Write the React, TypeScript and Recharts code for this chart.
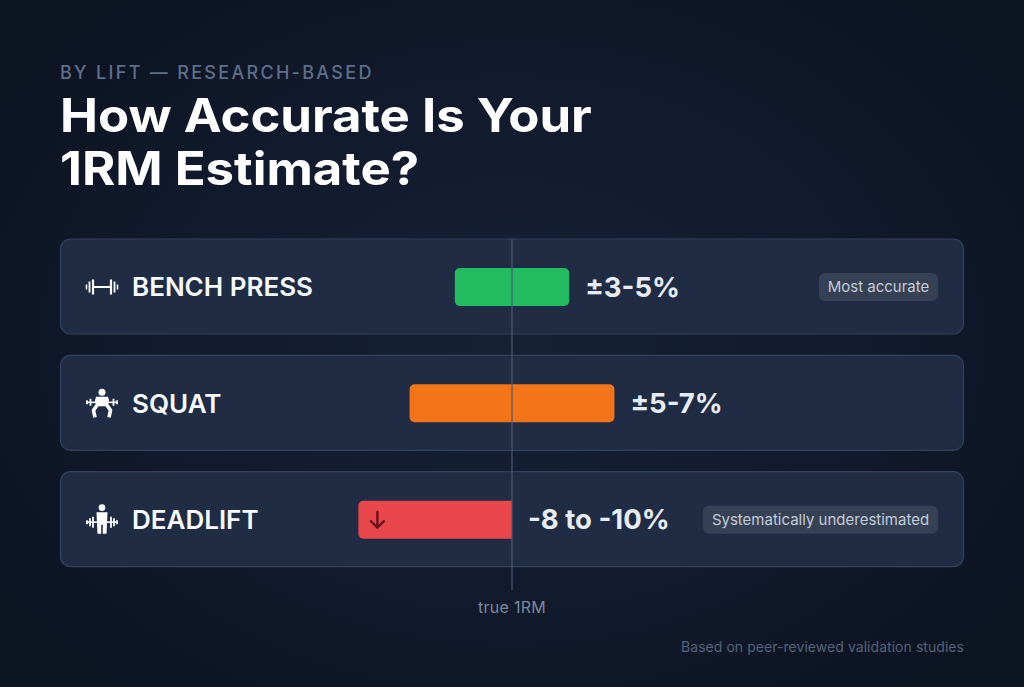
import React from "react";
import {
  Bar,
  BarChart,
  Cell,
  LabelList,
  Rectangle,
  ReferenceLine,
  XAxis,
  YAxis,
} from "recharts";

const lifts = ["BENCH PRESS", "SQUAT", "DEADLIFT"];
const lowValues = [-3.35, -6, -9];
const highValues = [3.35, 6, 0];
const rangeLabels = ["±3-5%", "±5-7%", "-8 to -10%"];
const notes = ["Most accurate", "", "Systematically underestimated"];
const barColors = ["#23bb60", "#f47519", "#e9474b"];

const rows = lifts.map((lift, i) => ({
  lift,
  range: [lowValues[i], highValues[i]],
  rangeLabel: rangeLabels[i],
  note: notes[i],
}));

const FONT = "Inter, 'Noto Sans', sans-serif";

const CardBackground = (props: any) => (
  <rect
    x={60.5}
    y={props.y - 29}
    width={903}
    height={95}
    rx={10}
    fill="#1f2c43"
    stroke="#33435c"
    strokeWidth={1.2}
  />
);

const RangeBar = (props: any) => {
  const oneSided = props.payload.range[1] === 0;
  return (
    <g>
      <Rectangle
        x={props.x}
        y={props.y}
        width={props.width}
        height={props.height}
        fill={props.fill}
        radius={oneSided ? [5, 0, 0, 5] : 5}
      />
      {oneSided && (
        <g
          transform={`translate(${props.x + 19} ${props.y + props.height / 2})`}
          stroke="#6b1119"
          strokeWidth={2.4}
          fill="none"
          strokeLinecap="round"
          strokeLinejoin="round"
        >
          <path d="M0 -8 V8 M-6.5 1.5 L0 8 L6.5 1.5" />
        </g>
      )}
    </g>
  );
};

const LiftIcon = ({ lift, y }: { lift: string; y: number }) => (
  <g transform={`translate(102 ${y})`}>
    {lift === "BENCH PRESS" && (
      <g stroke="#fff" fill="none">
        <path d="M-15.5 -2.5 V2.5 M15.5 -2.5 V2.5" strokeWidth={1.5} />
        <path d="M-12.5 -5.5 V5.5 M12.5 -5.5 V5.5" strokeWidth={1.8} />
        <path d="M-9 -7.5 V7.5 M9 -7.5 V7.5" strokeWidth={2.2} />
        <path d="M-9 0 H9" strokeWidth={2} />
      </g>
    )}
    {lift === "SQUAT" && (
      <g fill="#fff">
        <circle cx={0} cy={-11} r={3.5} />
        <path d="M-6 -6.5 H6 L7 -3 L6 3 H-6 L-7 -3 Z" />
        <path
          d="M-5 2 L-8.5 7 L-7 14 M5 2 L8.5 7 L7 14"
          stroke="#fff"
          strokeWidth={3.6}
          fill="none"
          strokeLinejoin="round"
        />
        <path d="M-15 -1 H15" stroke="#fff" strokeWidth={1.6} />
        <path
          d="M-11.5 -4.5 V2.5 M-15 -3 V1 M11.5 -4.5 V2.5 M15 -3 V1"
          stroke="#fff"
          strokeWidth={1.8}
        />
      </g>
    )}
    {lift === "DEADLIFT" && (
      <g fill="#fff">
        <circle cx={0} cy={-12} r={3.3} />
        <path d="M-5.5 -7.5 H5.5 L5 4 L4.5 14 H0.8 V5 H-0.8 V14 H-4.5 L-5 4 Z" />
        <path d="M-15 2.5 H15" stroke="#fff" strokeWidth={1.6} />
        <path
          d="M-9 -3 V8 M-12 -1.5 V6.5 M-15 0.5 V4.5 M9 -3 V8 M12 -1.5 V6.5 M15 0.5 V4.5"
          stroke="#fff"
          strokeWidth={1.8}
        />
      </g>
    )}
  </g>
);

// axis ticks end up under the cards, so the names go through a LabelList instead
const LiftLabel = (props: any) => {
  const cy = props.y + props.height / 2;
  return (
    <g>
      <LiftIcon lift={props.value} y={cy} />
      <text
        x={132}
        y={cy}
        dy="0.36em"
        fill="#f8fafc"
        fontFamily={FONT}
        fontSize={26}
        fontWeight={600}
      >
        {props.value}
      </text>
    </g>
  );
};

const NotePill = (props: any) => {
  const note = props.value;
  if (!note) return null;
  const w = note.length * 7.25 + 24.75;
  const cy = props.y + props.height / 2;
  return (
    <g>
      <rect x={938 - w} y={cy - 14} width={w} height={28} rx={6} fill="#374155" />
      <text
        x={938 - w / 2}
        y={cy}
        dy="0.36em"
        textAnchor="middle"
        fill="#c3ccd9"
        fontFamily={FONT}
        fontSize={15}
      >
        {note}
      </text>
    </g>
  );
};

const App = () => (
  <div
    style={{
      position: "absolute",
      left: 0,
      top: 0,
      width: 1024,
      height: 687,
      overflow: "hidden",
      background:
        "radial-gradient(ellipse 620px 460px at 50% 50%, #172135 0%, #111a2c 60%, #0c1321 100%)",
      fontFamily: FONT,
    }}
  >
    <BarChart
      width={1024}
      height={687}
      data={rows}
      layout="vertical"
      barSize={38}
      margin={{ top: 229, right: 0, bottom: 97, left: 0 }}
    >
      <XAxis type="number" domain={[-30, 30]} hide />
      <YAxis
        type="category"
        dataKey="lift"
        width={0}
        axisLine={false}
        tickLine={false}
        tick={false}
        padding={{ top: 0, bottom: 12 }}
      />
      <Bar
        dataKey="range"
        isAnimationActive={false}
        background={CardBackground}
        shape={RangeBar}
      >
        {rows.map((row, i) => (
          <Cell key={row.lift} fill={barColors[i]} />
        ))}
        <LabelList dataKey="lift" content={LiftLabel} />
        <LabelList
          dataKey="rangeLabel"
          position="right"
          offset={16}
          fill="#e8edf4"
          fontFamily={FONT}
          fontSize={27.5}
          fontWeight={700}
        />
        <LabelList dataKey="note" content={NotePill} />
      </Bar>
      <ReferenceLine
        x={0}
        stroke="#4b5a74"
        strokeWidth={1.2}
        shape={(props: any) => (
          <line
            x1={props.x1}
            x2={props.x2}
            y1={props.y1}
            y2={239}
            stroke={props.stroke}
            strokeWidth={props.strokeWidth}
          />
        )}
        label={{
          value: "true 1RM",
          position: "bottom",
          offset: 12,
          fill: "#7c899d",
          fontSize: 16,
          letterSpacing: 0.3,
          fontFamily: FONT,
        }}
      />
    </BarChart>
    <div
      style={{
        position: "absolute",
        left: 60,
        top: 62,
        fontSize: 18,
        fontWeight: 500,
        letterSpacing: 2.3,
        lineHeight: "22px",
        color: "#5f6f8a",
      }}
    >
      BY LIFT — RESEARCH-BASED
    </div>
    <div
      style={{
        position: "absolute",
        left: 60,
        top: 89,
        fontSize: 46,
        fontWeight: 700,
        lineHeight: "53px",
        color: "#ffffff",
        transform: "scaleX(1.105)",
        transformOrigin: "0 0",
        whiteSpace: "nowrap",
      }}
    >
      How Accurate Is Your
      <br />
      1RM Estimate?
    </div>
    <div
      style={{
        position: "absolute",
        right: 60,
        top: 638,
        fontSize: 14,
        lineHeight: "18px",
        letterSpacing: 0.05,
        color: "#55637a",
      }}
    >
      Based on peer-reviewed validation studies
    </div>
  </div>
);

export default App;
